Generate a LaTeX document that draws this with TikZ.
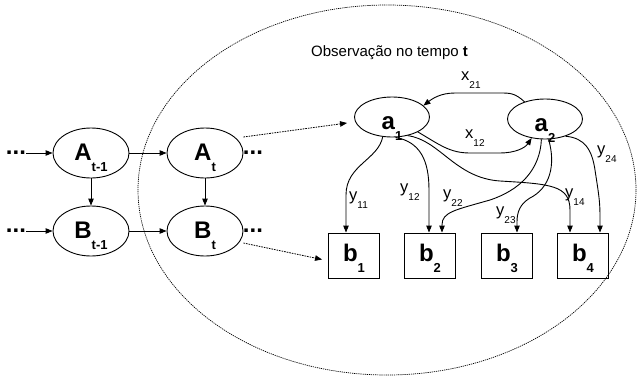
\documentclass[tikz,border=0pt]{standalone}
\usepackage{fontspec}
\setmainfont{Liberation Sans}
\usetikzlibrary{shapes.geometric,arrows.meta}

% bold variable with a dropped bold index
\newcommand{\mksym}[2]{{\fontsize{24}{24}\selectfont\bfseries #1}\raisebox{-11pt}{\fontsize{13}{13}\selectfont\bfseries #2}}
% weight label with a dropped index
\newcommand{\mkwt}[2]{{\fontsize{16.5}{16.5}\selectfont #1}\raisebox{-8pt}{\fontsize{10}{10}\selectfont #2}}

\tikzset{
  bigell/.style={ellipse, draw, line width=0.9pt, minimum width=76pt, minimum height=50pt,
    inner sep=0pt, text height=14pt, text depth=0pt},
  smallell/.style={ellipse, draw, line width=0.9pt, minimum width=75pt, minimum height=40pt,
    inner sep=0pt, text height=24pt, text depth=0pt},
  obsbox/.style={rectangle, draw, line width=0.9pt, minimum width=51pt, minimum height=45pt,
    inner sep=0pt, text height=11pt, text depth=0pt},
  link/.style={line width=0.9pt, -{Triangle[length=7pt,width=5.5pt]}},
  proj/.style={line width=0.8pt, dash pattern=on 1.6pt off 1pt, -{Triangle[length=7pt,width=5.5pt]}},
  dots/.style={font=\fontsize{24}{24}\selectfont\bfseries, inner sep=0pt, anchor=base},
  wlabel/.style={anchor=base west, inner sep=0pt},
}

\begin{document}
\begin{tikzpicture}[x=1pt, y=-1pt]
\useasboundingbox (0,0) rectangle (638,378);

% observation region at time t
\draw[line width=0.7pt, dash pattern=on 1.2pt off 0.9pt] (387,190) ellipse [x radius=249pt, y radius=185pt];
\node[anchor=base west, inner sep=0pt, font=\fontsize{15}{15}\selectfont] (title) at (311,56) {Observação no tempo \textbf{t}};

% hidden chain
\node[bigell] (At1) at (91,153) {\mksym{A}{t-1}};
\node[bigell] (Bt1) at (91,231) {\mksym{B}{t-1}};
\node[bigell] (At)  at (205,153) {\mksym{A}{t}};
\node[bigell] (Bt)  at (205,231) {\mksym{B}{t}};

\node[dots] (dA1) at (16,154) {...};
\node[dots] (dB1) at (16,232) {...};
\node[dots] (dA)  at (253,154) {...};
\node[dots] (dB)  at (253,232) {...};

\draw[link] (dA1.east |- At1.west) -- (At1.west);
\draw[link] (dB1.east |- Bt1.west) -- (Bt1.west);
\draw[link] (At1.east) -- (At.west);
\draw[link] (Bt1.east) -- (Bt.west);
\draw[link] (At1.south) -- (Bt1.north);
\draw[link] (At.south) -- (Bt.north);

% detailed model
\node[smallell] (a1) at (392,117) {\mksym{a}{1}};
\node[smallell] (a2) at (545,119) {\mksym{a}{2}};

\node[obsbox] (b1) at (354,255.5) {\mksym{b}{1}};
\node[obsbox] (b2) at (430,255.5) {\mksym{b}{2}};
\node[obsbox] (b3) at (507,255.5) {\mksym{b}{3}};
\node[obsbox] (b4) at (583,255.5) {\mksym{b}{4}};

\draw[proj] ([yshift=16pt]At.east) -- ([xshift=-7pt,yshift=-6pt]a1.west);
\draw[proj] ([yshift=-12pt]Bt.east) -- ([xshift=-6pt,yshift=-4pt]b1.west);

\draw[link] (a2.140) .. controls (515,93) and (510,93) .. (500,93) -- (455,93)
  .. controls (440,93) and (432,99) .. (a1.20);
\draw[link] (a1.-30) .. controls (440,145) and (450,153) .. (470,153) -- (500,153)
  .. controls (515,153) and (525,148) .. (a2.-125);

\draw[link] (a1.-115) .. controls (378,160) and (346,165) .. (346,195) -- ([xshift=-8pt]b1.north);
\draw[link] (a1.-80) .. controls (420,142) and (429,160) .. (429,190) -- ([xshift=-1pt]b2.north);
\draw[link] (a1.-50) .. controls (440,140) and (455,178) .. (500,181)
  .. controls (550,184) and (570,185) .. (570,210) -- ([xshift=-13pt]b4.north);
\draw[link] (a2.-100) .. controls (540,170) and (520,190) .. (490,200)
  .. controls (455,210) and (442,212) .. (442,225) -- ([xshift=12pt]b2.north);
\draw[link] (a2.-80) .. controls (556,165) and (550,188) .. (530,198)
  .. controls (520,204) and (517,212) .. (517,222) -- ([xshift=10pt]b3.north);
\draw[link] (a2.-40) .. controls (585,138) and (592,150) .. (595,170)
  .. controls (598,190) and (600,200) .. (600,215) -- ([xshift=17pt]b4.north);

\node[wlabel] (lx21) at (461,80)  {\mkwt{x}{21}};
\node[wlabel] (lx12) at (465,138) {\mkwt{x}{12}};
\node[wlabel] (ly11) at (349,200) {\mkwt{y}{11}};
\node[wlabel] (ly12) at (400,192) {\mkwt{y}{12}};
\node[wlabel] (ly22) at (443,198) {\mkwt{y}{22}};
\node[wlabel] (ly23) at (496,215) {\mkwt{y}{23}};
\node[wlabel] (ly14) at (565,197) {\mkwt{y}{14}};
\node[wlabel] (ly24) at (597,154) {\mkwt{y}{24}};
\end{tikzpicture}
\end{document}
